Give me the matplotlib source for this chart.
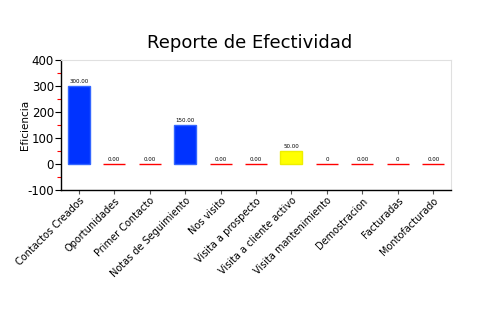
import matplotlib.pyplot as plt
from matplotlib.ticker import MultipleLocator

plt.rcParams['font.family'] = ['DejaVu Sans']
plt.rcParams['axes.unicode_minus'] = False

categorias = ['Contactos Creados', 'Oportunidades', 'Primer Contacto', 'Notas de Seguimiento',
              'Nos visito', 'Visita a prospecto', 'Visita a cliente activo',
              'Visita mantenimiento', 'Demostracion', 'Facturadas', 'Montofacturado']
valores = [300, 0, 0, 150, 0, 0, 50, 0, 0, 0, 0]
etiquetas = ['300.00', '0.00', '0.00', '150.00', '0.00', '0.00', '50.00', '0', '0.00', '0', '0.00']
colores = ['#0033ff', '#ff0000', '#ff0000', '#0033ff', '#ff0000', '#ff0000', '#ffff00',
           '#ff0000', '#ff0000', '#ff0000', '#ff0000']
bordes = ['#3366ff', '#ff0000', '#ff0000', '#3366ff', '#ff0000', '#ff0000', '#eeee00',
          '#ff0000', '#ff0000', '#ff0000', '#ff0000']

fig = plt.figure(figsize=(5, 3.3), dpi=100)
ax = fig.add_axes([0.122, 0.424, 0.78, 0.394])

x = range(len(categorias))
ax.bar(x, valores, width=0.62, color=colores, edgecolor=bordes, linewidth=1)

for i, (v, t) in enumerate(zip(valores, etiquetas)):
    ax.text(i, v + 8, t, ha='center', va='bottom', fontsize=4, color='black')

ax.set_xlim(-0.5, len(categorias) - 0.5)
ax.set_ylim(-100, 400)
ax.yaxis.set_major_locator(MultipleLocator(100))
ax.yaxis.set_minor_locator(MultipleLocator(50))
ax.tick_params(axis='y', which='minor', color='red', length=3, width=0.8)
ax.tick_params(axis='y', which='major', length=4, width=0.8, labelsize=8.5, pad=1)
ax.tick_params(axis='x', length=3, width=0.8, color='#555555', pad=1)
ax.set_xticks(list(x))
ax.set_xticklabels(categorias, rotation=45, ha='right', rotation_mode='anchor', fontsize=7)

for lado in ['top', 'right']:
    ax.spines[lado].set_color('#e0e0e0')
    ax.spines[lado].set_linewidth(0.8)
for lado in ['left', 'bottom']:
    ax.spines[lado].set_color('black')
    ax.spines[lado].set_linewidth(1)

ax.set_ylabel('Eficiencia', fontsize=7.5)
ax.yaxis.set_label_coords(-0.08, 0.5)
fig.suptitle('Reporte de Efectividad', fontsize=13, y=0.87, va='center')

fig.savefig('out.png', dpi=100)
